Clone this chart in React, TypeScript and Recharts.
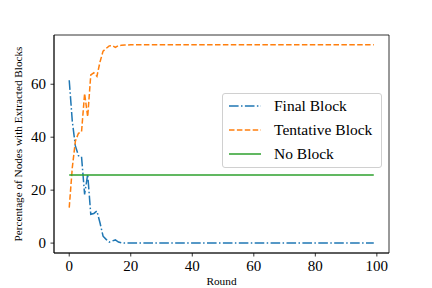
import React from 'react';
import { LineChart, Line, XAxis, YAxis, ReferenceArea } from 'recharts';

const rounds = [
  0, 1, 2, 3, 4, 5, 6, 7, 8, 9,
  10, 11, 12, 13, 14, 15, 16, 17, 18, 19,
  20, 21, 22, 23, 24, 25, 26, 27, 28, 29,
  30, 31, 32, 33, 34, 35, 36, 37, 38, 39,
  40, 41, 42, 43, 44, 45, 46, 47, 48, 49,
  50, 51, 52, 53, 54, 55, 56, 57, 58, 59,
  60, 61, 62, 63, 64, 65, 66, 67, 68, 69,
  70, 71, 72, 73, 74, 75, 76, 77, 78, 79,
  80, 81, 82, 83, 84, 85, 86, 87, 88, 89,
  90, 91, 92, 93, 94, 95, 96, 97, 98, 99,
];

const finalBlock = [
  61.5, 46, 36.7, 33, 32.6, 18.4, 26, 10.9, 11.2, 12.1,
  7.7, 2.6, 1.4, 0.4, 0.8, 1.2, 0.4, 0.1, 0, 0,
  0, 0, 0, 0, 0, 0, 0, 0, 0, 0,
  0, 0, 0, 0, 0, 0, 0, 0, 0, 0,
  0, 0, 0, 0, 0, 0, 0, 0, 0, 0,
  0, 0, 0, 0, 0, 0, 0, 0, 0, 0,
  0, 0, 0, 0, 0, 0, 0, 0, 0, 0,
  0, 0, 0, 0, 0, 0, 0, 0, 0, 0,
  0, 0, 0, 0, 0, 0, 0, 0, 0, 0,
  0, 0, 0, 0, 0, 0, 0, 0, 0, 0,
];

const tentativeBlock = [
  13.4, 28.5, 38.5, 41.5, 42, 56.5, 47.7, 63.5, 64.3, 63,
  68.4, 72.5, 73.5, 74.5, 74.6, 73.9, 74.6, 74.7, 74.8, 74.8,
  74.9, 74.9, 74.9, 74.9, 74.9, 74.9, 74.9, 74.9, 74.9, 74.9,
  74.9, 74.9, 74.9, 74.9, 74.9, 74.9, 74.9, 74.9, 74.9, 74.9,
  74.9, 74.9, 74.9, 74.9, 74.9, 74.9, 74.9, 74.9, 74.9, 74.9,
  74.9, 74.9, 74.9, 74.9, 74.9, 74.9, 74.9, 74.9, 74.9, 74.9,
  74.9, 74.9, 74.9, 74.9, 74.9, 74.9, 74.9, 74.9, 74.9, 74.9,
  74.9, 74.9, 74.9, 74.9, 74.9, 74.9, 74.9, 74.9, 74.9, 74.9,
  74.9, 74.9, 74.9, 74.9, 74.9, 74.9, 74.9, 74.9, 74.9, 74.9,
  74.9, 74.9, 74.9, 74.9, 74.9, 74.9, 74.9, 74.9, 74.9, 74.9,
];

const noBlock = [
  25.7, 25.7, 25.7, 25.7, 25.7, 25.7, 25.7, 25.7, 25.7, 25.7,
  25.7, 25.7, 25.7, 25.7, 25.7, 25.7, 25.7, 25.7, 25.7, 25.7,
  25.7, 25.7, 25.7, 25.7, 25.7, 25.7, 25.7, 25.7, 25.7, 25.7,
  25.7, 25.7, 25.7, 25.7, 25.7, 25.7, 25.7, 25.7, 25.7, 25.7,
  25.7, 25.7, 25.7, 25.7, 25.7, 25.7, 25.7, 25.7, 25.7, 25.7,
  25.7, 25.7, 25.7, 25.7, 25.7, 25.7, 25.7, 25.7, 25.7, 25.7,
  25.7, 25.7, 25.7, 25.7, 25.7, 25.7, 25.7, 25.7, 25.7, 25.7,
  25.7, 25.7, 25.7, 25.7, 25.7, 25.7, 25.7, 25.7, 25.7, 25.7,
  25.7, 25.7, 25.7, 25.7, 25.7, 25.7, 25.7, 25.7, 25.7, 25.7,
  25.7, 25.7, 25.7, 25.7, 25.7, 25.7, 25.7, 25.7, 25.7, 25.7,
];

const xTicks = [0, 20, 40, 60, 80, 100];
const yTicks = [0, 20, 40, 60];
const seriesNames = ['Final Block', 'Tentative Block', 'No Block'];
const xLabel = 'Round';
const yLabel = 'Percentage of Nodes with Extracted Blocks';

const data = rounds.map((r, i) => ({
  round: r,
  final: finalBlock[i],
  tentative: tentativeBlock[i],
  none: noBlock[i],
}));

const FONT = "'Liberation Serif', 'Times New Roman', serif";
const COLORS = ['#1f77b4', '#ff7f0e', '#2ca02c'];
const DASHES = ['9.6 2.4 1.5 2.4', '5.5 2.4', undefined];

const X_DOMAIN = [-4.95, 103.95];
const Y_DOMAIN = [-3.74, 78.6];

const XTick = (props: any) => {
  const { x, y, payload } = props;
  return (
    <text x={x} y={y} dy="0.76em" textAnchor="middle" fill="#000" fontSize={15} style={{ fontFamily: FONT }}>
      {payload.value}
    </text>
  );
};

const YTick = (props: any) => {
  const { x, y, payload } = props;
  return (
    <text x={x} y={y} dy="0.34em" textAnchor="end" fill="#000" fontSize={15} style={{ fontFamily: FONT }}>
      {payload.value}
    </text>
  );
};

const XLabel = (props: any) => {
  const { viewBox } = props;
  const cx = viewBox.x + viewBox.width / 2;
  return (
    <text x={cx} y={285} textAnchor="middle" fill="#000" fontSize={11.3} style={{ fontFamily: FONT }}>
      {xLabel}
    </text>
  );
};

const YLabel = (props: any) => {
  const { viewBox } = props;
  const cy = viewBox.y + viewBox.height / 2;
  return (
    <text
      x={22}
      y={cy}
      transform={`rotate(-90 22 ${cy})`}
      textAnchor="middle"
      fill="#000"
      fontSize={11.2}
      style={{ fontFamily: FONT }}
    >
      {yLabel}
    </text>
  );
};

const LegendBox = () => (
  <div
    style={{
      position: 'absolute',
      left: 222,
      top: 93,
      width: 160,
      height: 75,
      boxSizing: 'border-box',
      border: '1px solid #d0d0d0',
      borderRadius: 3,
      background: 'rgba(255,255,255,0.8)',
      fontFamily: FONT,
      fontSize: 15.5,
      color: '#000',
    }}
  >
    {seriesNames.map((name, i) => (
      <div key={name} style={{ height: 24, display: 'flex', alignItems: 'center' }}>
        <svg width={46} height={10} style={{ marginLeft: 5 }}>
          <line
            x1={1}
            x2={33}
            y1={5}
            y2={5}
            stroke={COLORS[i]}
            strokeWidth={1.5}
            strokeDasharray={DASHES[i]}
          />
        </svg>
        <span style={{ lineHeight: '24px' }}>{name}</span>
      </div>
    ))}
  </div>
);

export default function App() {
  return (
    <div style={{ position: 'fixed', left: 0, top: 0, width: 432, height: 288, background: '#fff', fontFamily: FONT }}>
      <LineChart
        width={432}
        height={288}
        data={data}
        margin={{ top: 35, right: 43, bottom: 0, left: 0 }}
        style={{ fontFamily: FONT }}
      >
        <XAxis
          dataKey="round"
          type="number"
          domain={X_DOMAIN}
          ticks={xTicks}
          allowDataOverflow
          height={35}
          stroke="#000"
          strokeWidth={0.8}
          tickSize={3.5}
          tickMargin={3.5}
          tick={<XTick />}
          tickLine={{ stroke: '#000', strokeWidth: 0.8 }}
          label={<XLabel />}
        />
        <YAxis
          type="number"
          domain={Y_DOMAIN}
          ticks={yTicks}
          allowDataOverflow
          width={54}
          stroke="#000"
          strokeWidth={0.8}
          tickSize={3.5}
          tickMargin={4.5}
          tick={<YTick />}
          tickLine={{ stroke: '#000', strokeWidth: 0.8 }}
          label={<YLabel />}
        />
        <ReferenceArea
          x1={X_DOMAIN[0]}
          x2={X_DOMAIN[1]}
          y1={Y_DOMAIN[0]}
          y2={Y_DOMAIN[1]}
          fill="none"
          stroke="#000"
          strokeWidth={0.8}
          ifOverflow="visible"
        />
        <Line
          dataKey="final"
          name={seriesNames[0]}
          stroke={COLORS[0]}
          strokeWidth={1.5}
          strokeDasharray={DASHES[0]}
          dot={false}
          activeDot={false}
          isAnimationActive={false}
        />
        <Line
          dataKey="tentative"
          name={seriesNames[1]}
          stroke={COLORS[1]}
          strokeWidth={1.5}
          strokeDasharray={DASHES[1]}
          dot={false}
          activeDot={false}
          isAnimationActive={false}
        />
        <Line
          dataKey="none"
          name={seriesNames[2]}
          stroke={COLORS[2]}
          strokeWidth={1.5}
          dot={false}
          activeDot={false}
          isAnimationActive={false}
        />
      </LineChart>
      <LegendBox />
    </div>
  );
}
